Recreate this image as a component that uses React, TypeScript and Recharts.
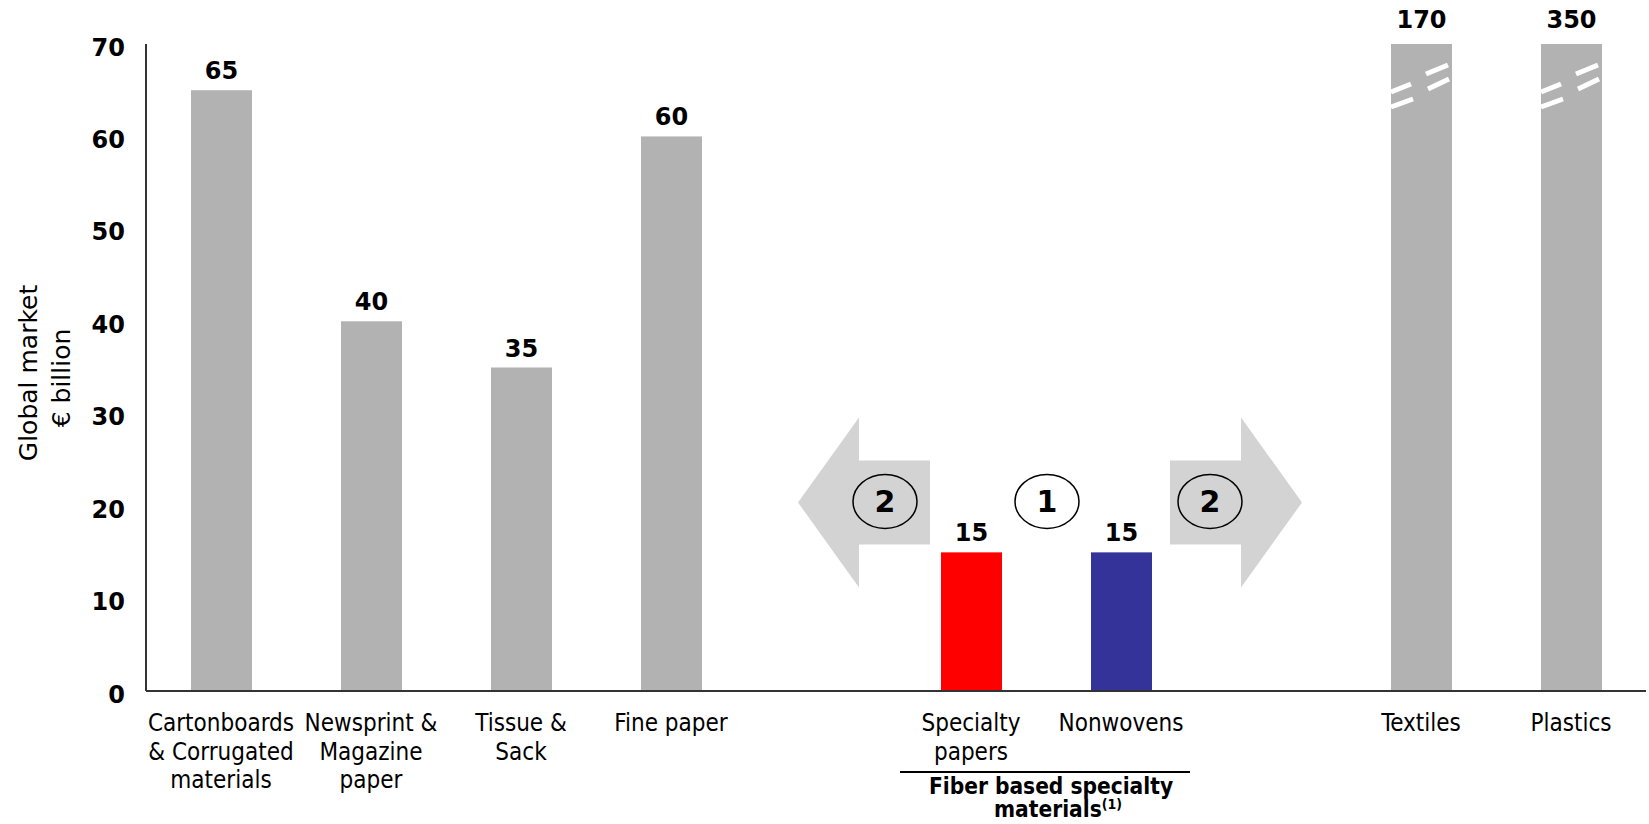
import React from "react";
import { BarChart, Bar, XAxis, YAxis, Cell, LabelList, Customized } from "recharts";

// Global market size per segment, € billion. "gap-*" entries are empty spacer slots.
const segments = [
  "Cartonboards",
  "Newsprint",
  "Tissue",
  "Fine paper",
  "gap-1",
  "Specialty papers",
  "Nonwovens",
  "gap-2",
  "Textiles",
  "Plastics",
];
const marketSize: (number | null)[] = [65, 40, 35, 60, null, 15, 15, null, 170, 350];
const segmentLabels: string[][] = [
  ["Cartonboards", "& Corrugated", "materials"],
  ["Newsprint &", "Magazine", "paper"],
  ["Tissue &", "Sack"],
  ["Fine paper"],
  [],
  ["Specialty", "papers"],
  ["Nonwovens"],
  [],
  ["Textiles"],
  ["Plastics"],
];
const yTicks = [0, 10, 20, 30, 40, 50, 60, 70];
const groupLabel = ["Fiber based specialty", "materials"];

const W = 1649;
const H = 824;
const MARGIN = { top: 44, right: 3, bottom: 0, left: 0 };
const Y_AXIS_W = 146;
const X_AXIS_H = 133;
const Y_MAX = 70;
const PLOT_L = MARGIN.left + Y_AXIS_W;
const PLOT_W = W - PLOT_L - MARGIN.right;
const PLOT_H = H - MARGIN.top - X_AXIS_H;
const PLOT_B = MARGIN.top + PLOT_H;
const SLOT = PLOT_W / segments.length;

const GRAY = "#b2b2b2";
const ARROW = "#d3d3d3";
const barColor: Record<string, string> = {
  "Specialty papers": "#ff0000",
  Nonwovens: "#333399",
};

const REGULAR = "'DejaVu Sans Condensed', 'DejaVu Sans', sans-serif";
const BOLD = "'DejaVu Sans', sans-serif";
const BOLD_NARROW = "'DejaVu Sans Condensed', 'DejaVu Sans', sans-serif";

const data = segments.map((name, i) => ({ name, size: marketSize[i] }));

const valueY = (v: number) => MARGIN.top + PLOT_H * (1 - v / Y_MAX);

function CategoryTick({ x, y, payload }: any) {
  const lines = segmentLabels[segments.indexOf(payload.value)] || [];
  return (
    <text x={x} y={y + 40} textAnchor="middle" fontFamily={REGULAR} fontSize={24} fill="#000">
      {lines.map((l, k) => (
        <tspan key={k} x={x} dy={k === 0 ? 0 : 28.5}>
          {l}
        </tspan>
      ))}
    </text>
  );
}

function YAxisTitle() {
  return (
    <g fontFamily={BOLD} fontSize={25} fill="#000">
      <text transform="translate(37,373) rotate(-90)" textAnchor="middle">
        Global market
      </text>
      <text transform="translate(70,378) rotate(-90)" textAnchor="middle">
        € billion
      </text>
    </g>
  );
}

// bars taller than the axis are cut at the top and get a white break mark
function SegmentBar(props: any) {
  const { x, y, width, height, fill, payload } = props;
  const broken = payload && payload.size > Y_MAX;
  const t = MARGIN.top;
  return (
    <g>
      <rect x={x} y={y} width={width} height={height} fill={fill} />
      {broken && (
        <g stroke="#fff" strokeWidth={5}>
          <line x1={x} y1={t + 48} x2={x + 20} y2={t + 40} />
          <line x1={x} y1={t + 63} x2={x + 22} y2={t + 55} />
          <line x1={x + 35} y1={t + 30} x2={x + 57} y2={t + 21} />
          <line x1={x + 37} y1={t + 45} x2={x + 58} y2={t + 35} />
        </g>
      )}
    </g>
  );
}

function ValueLabel({ x, y, width, value }: any) {
  if (value == null) return null;
  const top = Math.max(y, MARGIN.top - 5);
  return (
    <text
      x={x + width / 2}
      y={top - 11}
      textAnchor="middle"
      fontFamily={BOLD}
      fontWeight="bold"
      fontSize={24}
      fill="#000"
    >
      {value}
    </text>
  );
}

function Annotations() {
  // boundary between the two specialty segments
  const mid = PLOT_L + SLOT * 6;
  const cy = valueY(20.4);

  const arrow = (dir: number) => {
    const c = mid + 4;
    const inner = c + dir * 120;
    const back = c + dir * 191;
    const tip = c + dir * 252;
    const pts = [
      [inner, cy - 42],
      [back, cy - 42],
      [back, cy - 85],
      [tip, cy],
      [back, cy + 85],
      [back, cy + 42],
      [inner, cy + 42],
    ];
    return <polygon points={pts.map((p) => p.join(",")).join(" ")} fill={ARROW} />;
  };

  const badge = (cx: number, n: string, fill: string) => (
    <g>
      <ellipse cx={cx} cy={cy - 1} rx={32} ry={27} fill={fill} stroke="#000" strokeWidth={1.5} />
      <text x={cx} y={cy + 10} textAnchor="middle" fontFamily={BOLD} fontWeight="bold" fontSize={30} fill="#000">
        {n}
      </text>
    </g>
  );

  return (
    <g>
      {arrow(-1)}
      {arrow(1)}
      {badge(mid - 161, "2", "none")}
      {badge(mid + 1, "1", "#fff")}
      {badge(mid + 164, "2", "none")}
      {/* bracket + group title under the two specialty segments */}
      <line x1={mid - 146} x2={mid + 144} y1={PLOT_B + 81} y2={PLOT_B + 81} stroke="#000" strokeWidth={2} />
      <text
        y={PLOT_B + 103}
        textAnchor="middle"
        fontFamily={BOLD_NARROW}
        fontWeight="bold"
        fontSize={22.5}
        fill="#000"
      >
        <tspan x={mid + 5}>{groupLabel[0]}</tspan>
        <tspan x={mid + 12} dy={23}>
          {groupLabel[1]}
        </tspan>
        <tspan fontSize={14} dy={-8}>
          (1)
        </tspan>
      </text>
    </g>
  );
}

export default function App() {
  return (
    <div style={{ position: "absolute", left: 0, top: 0, width: W, height: H, background: "#fff" }}>
      <BarChart width={W} height={H} data={data} margin={MARGIN} barSize={61}>
        <XAxis
          dataKey="name"
          interval={0}
          height={X_AXIS_H}
          tickLine={false}
          tickSize={0}
          tickMargin={0}
          axisLine={{ stroke: "#333", strokeWidth: 2 }}
          tick={<CategoryTick />}
        />
        <YAxis
          width={Y_AXIS_W}
          domain={[0, Y_MAX]}
          ticks={yTicks}
          interval={0}
          allowDataOverflow
          tickLine={false}
          tickSize={0}
          tickMargin={21}
          axisLine={{ stroke: "#333", strokeWidth: 2 }}
          tick={{ fill: "#000", fontSize: 24, fontWeight: "bold", fontFamily: BOLD, dy: 3 }}
          label={<YAxisTitle />}
        />
        <Bar dataKey="size" shape={<SegmentBar />} isAnimationActive={false}>
          {data.map((d) => (
            <Cell key={d.name} fill={barColor[d.name] || GRAY} />
          ))}
          <LabelList dataKey="size" content={<ValueLabel />} />
        </Bar>
        <Customized component={<Annotations />} />
      </BarChart>
    </div>
  );
}
